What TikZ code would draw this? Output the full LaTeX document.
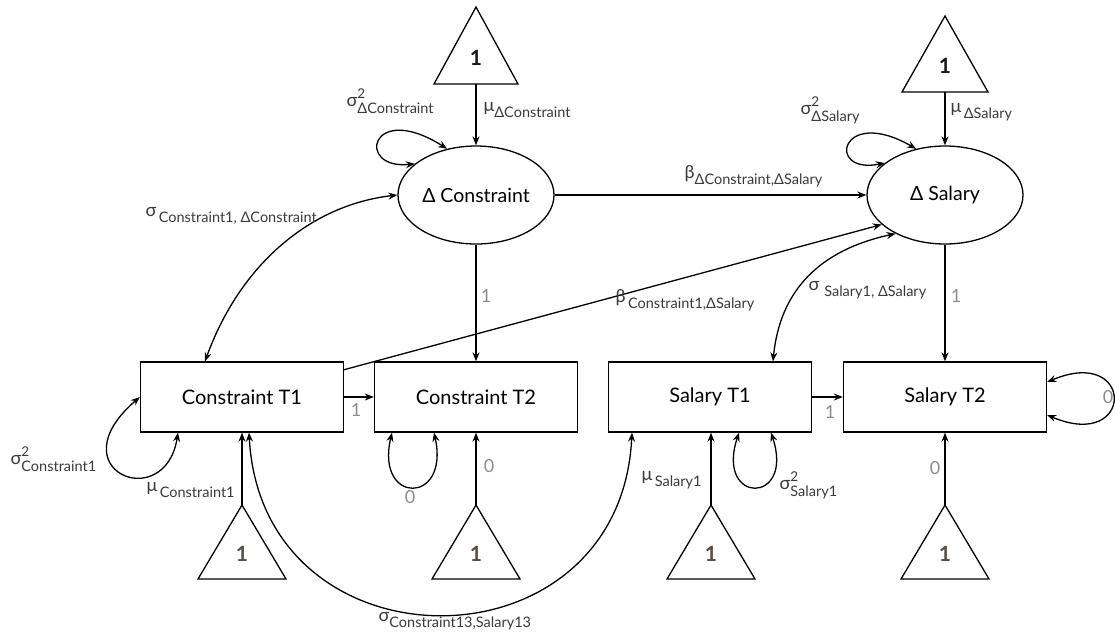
\documentclass[tikz,border=0pt]{standalone}
\usepackage{fontspec}
\setmainfont{Lato}
\usetikzlibrary{arrows.meta,shapes.geometric}
\definecolor{lab}{HTML}{3A3A3A}
\definecolor{pl}{HTML}{8C8C8C}
\definecolor{trione}{HTML}{1A1A1A}
\definecolor{tritwo}{HTML}{554F48}
\newcommand\gs[3]{#1\rlap{\raisebox{0.48em}{\fontsize{13.5}{12}\selectfont #2}}\raisebox{-0.36em}{\fontsize{14.5}{12}\selectfont #3}}
\begin{document}
\begin{tikzpicture}[x=1pt,y=-1pt,line width=1.3pt,
  >={Stealth[length=9pt,width=7pt]},
  box/.style={draw,minimum width=203pt,minimum height=70pt,inner sep=0,font=\fontsize{20}{22}\selectfont},
  lat/.style={draw,ellipse,minimum width=156pt,minimum height=98pt,inner sep=0,font=\fontsize{19.5}{22}\selectfont},
  lbl/.style={anchor=west,inner sep=0,text=lab,font=\fontsize{18}{20}\selectfont},
  pth/.style={inner sep=0,text=pl,font=\fontsize{18}{20}\selectfont},
  numtop/.style={inner sep=0,text=trione,font=\bfseries\fontsize{21}{22}\selectfont},
  numbot/.style={inner sep=0,text=tritwo,font=\bfseries\fontsize{21}{22}\selectfont},
  tri/.style={line width=1.3pt,line join=miter}]
\useasboundingbox (0,0) rectangle (1115,638);
% latent nodes
\node[lat] (dc) at (476,195) {Δ Constraint};
\node[lat] (ds) at (945,195) {Δ Salary};
% boxes
\node[box] (c1) at (242,397) {Constraint T1};
\node[box] (c2) at (476,397) {Constraint T2};
\node[box] (s1) at (710,397) {Salary T1};
\node[box] (s2) at (945,397) {Salary T2};
% top triangles
\draw[tri] (434,84) -- (476,7) -- (518,84) -- cycle;
\node[numtop] (tdc) at (476,58) {1};
\coordinate (tdcb) at (476,84);
\draw[tri] (902,92) -- (945,16) -- (988,92) -- cycle;
\node[numtop] (tds) at (945,66) {1};
\coordinate (tdsb) at (945,92);
% bottom triangles
\foreach \n/\x in {tc1/242,tc2/476,ts1/711,ts2/945}{
  \draw[tri] (\x-44,579) -- (\x,505) -- (\x+44,579) -- cycle;
  \node[numbot] (\n) at (\x,554) {1};
  \coordinate (\n a) at (\x,505);
}
% means
\draw[->] (tdcb) -- (dc.north);
\draw[->] (tdsb) -- (ds.north);
\draw[->] (tc1a) -- (c1.south);
\draw[->] (tc2a) -- (c2.south);
\draw[->] (ts1a) -- (s1.south -| ts1a);
\draw[->] (ts2a) -- (s2.south);
% loadings and regressions
\draw[->] (dc.south) -- (c2.north);
\draw[->] (ds.south) -- (s2.north);
\draw[->] (dc.east) -- (ds.west);
\draw[->] (c1.east) -- (c2.west);
\draw[->] (s1.east) -- (s2.west);
\coordinate (c1r) at (343,370);
\draw[->] (c1r) -- (ds.205);
% covariances
\draw[<->] (c1.south -| 249,0) .. controls (262,675) and (620,675) .. (s1.south -| 632,0);
\draw[<->] (c1.north -| 205,0) .. controls (240,265) and (310,205) .. (dc.west);
\draw[<->] (s1.north -| 773,0) .. controls (780,290) and (820,250) .. (ds.218);
% variance loops
\draw[<->] (dc.153) .. controls (355,170) and (370,100) .. (dc.122);
\draw[<->] (ds.152) .. controls (825,175) and (840,105) .. (ds.122);
\draw[<->] (c1.south -| 178,0) .. controls (165,515) and (55,470) .. (c1.west);
\draw[<->] (c2.south -| 392,0) .. controls (375,505) and (450,505) .. (c2.south -| 434,0);
\draw[<->] (s1.south -| 739,0) .. controls (715,505) and (795,505) .. (s1.south -| 771,0);
\draw[<->] (s2.east |- 0,382) .. controls (1135,345) and (1135,452) .. (s2.east |- 0,415);
% path labels
\node[pth] (l1) at (486,296) {1};
\node[pth] (l2) at (956,296) {1};
\node[pth] (l3) at (356,410) {1};
\node[pth] (l4) at (830,412) {1};
\node[pth] (l5) at (410,497) {0};
\node[pth] (l6) at (489,466) {0};
\node[pth] (l7) at (935,468) {0};
\node[pth] (l8) at (1108,397) {0};
% parameter labels
\node[lbl] (vdc) at (346,101) {\gs{σ}{2}{ΔConstraint}};
\node[lbl] (mdc) at (483,110) {\gs{μ}{}{ΔConstraint}};
\node[lbl] (vds) at (800,110) {\gs{σ}{2}{ΔSalary}};
\node[lbl] (mds) at (950,112) {\gs{μ}{}{\,ΔSalary}};
\node[lbl] (bdd) at (684,176) {\gs{β}{}{ΔConstraint,ΔSalary}};
\node[lbl] (cdc) at (145,216) {\gs{σ}{}{\,Constraint1, ΔConstraint}};
\node[lbl] (bcs) at (615,300) {\gs{β}{}{\,Constraint1,ΔSalary}};
\node[lbl] (css) at (808,290) {\gs{σ}{}{\,\,Salary1, ΔSalary}};
\node[lbl] (vc1) at (10,459) {\gs{σ}{2}{Constraint1}};
\node[lbl] (mc1) at (146,490) {\gs{μ}{}{\,Constraint1}};
\node[lbl] (ms1) at (641,480) {\gs{μ}{}{\,Salary1}};
\node[lbl] (vs1) at (779,485) {\gs{σ}{2}{Salary1}};
\node[lbl] (ccs) at (378,621) {\gs{σ}{}{Constraint13,Salary13}};
\end{tikzpicture}
\end{document}
